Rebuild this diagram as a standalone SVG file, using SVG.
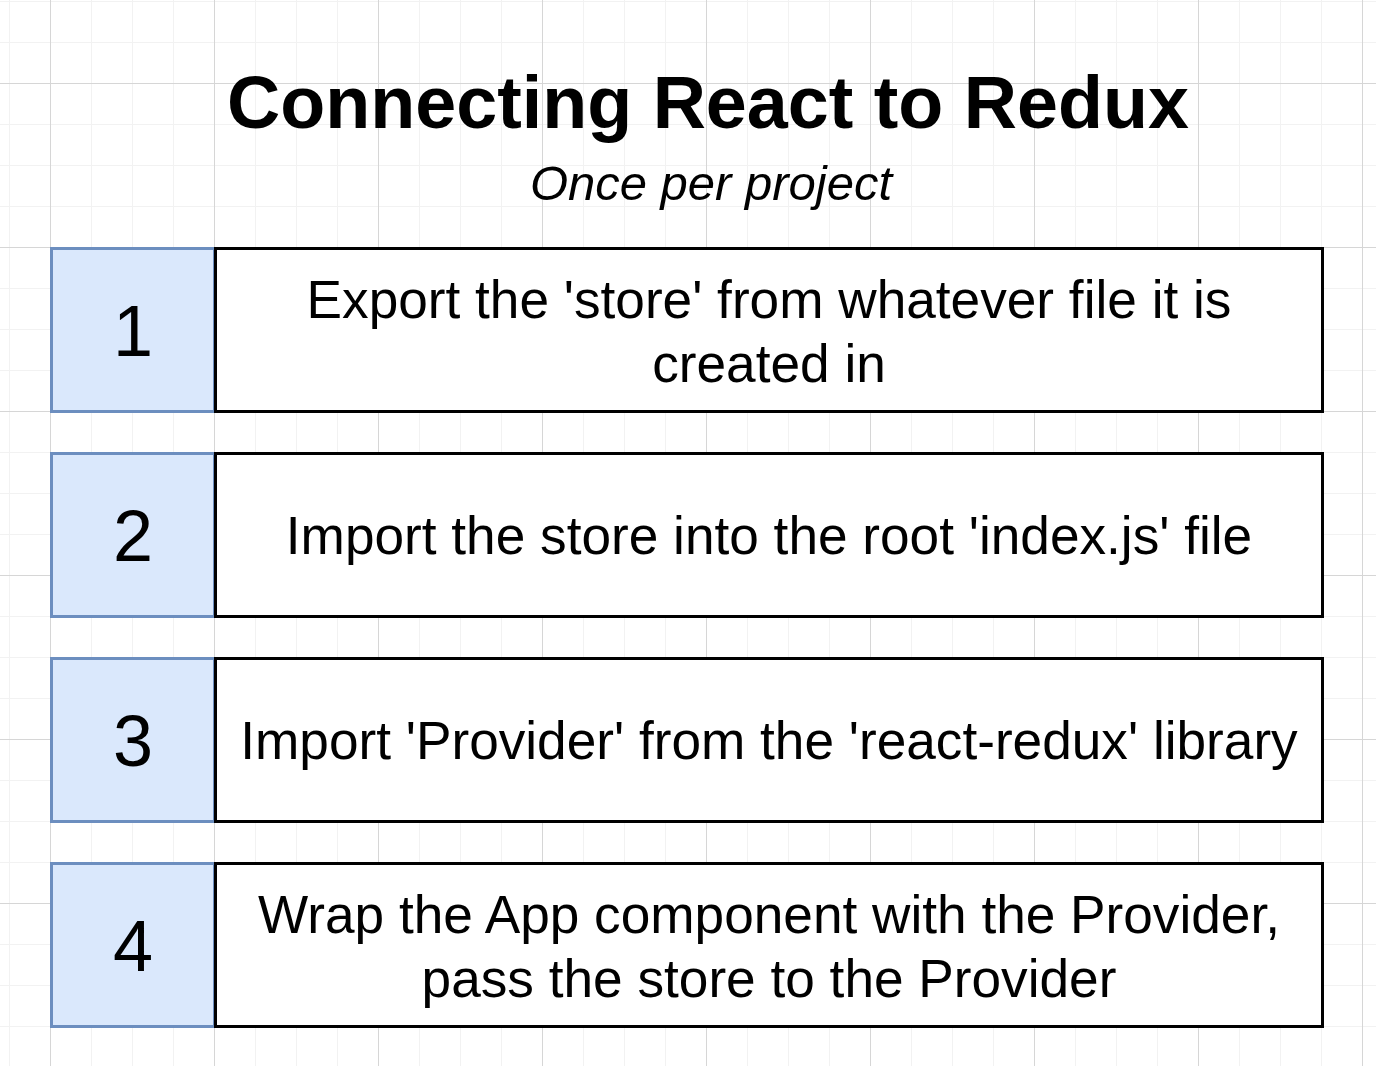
<svg xmlns="http://www.w3.org/2000/svg" width="1376" height="1066" viewBox="0 0 1376 1066">
  <defs>
    <!-- canvas grid: fine lines every 41px, heavier lines every 164px -->
    <pattern id="grid" patternUnits="userSpaceOnUse" x="50" y="83" width="164" height="164">
      <path d="M41.5 0V164M82.5 0V164M123.5 0V164M0 41.5H164M0 82.5H164M0 123.5H164" stroke="#f2f2f2" stroke-width="1" fill="none"/>
      <path d="M0.5 0V164M0 0.5H164" stroke="#d6d6d6" stroke-width="1" fill="none"/>
    </pattern>
    <style>
      .num { fill: #dae8fc; stroke: #6c8ebf; stroke-width: 3; }
      .box { fill: #ffffff; stroke: #000000; stroke-width: 3; }
      .numtxt { font-family: "Liberation Sans", Arial, Helvetica, sans-serif; font-size: 72px; fill: #000; text-anchor: middle; }
      .txt { font-family: "Liberation Sans", Arial, Helvetica, sans-serif; font-size: 53.2px; fill: #000; text-anchor: middle; }
      .title { font-family: "Liberation Sans", Arial, Helvetica, sans-serif; font-size: 73.7px; font-weight: bold; fill: #000; text-anchor: middle; }
      .sub { font-family: "Liberation Sans", Arial, Helvetica, sans-serif; font-size: 49px; font-style: italic; fill: #000; text-anchor: middle; }
    </style>
  </defs>

  <rect width="1376" height="1066" fill="#ffffff"/>
  <rect width="1376" height="1066" fill="url(#grid)"/>

  <g id="title">
    <text class="title" x="708" y="128">Connecting React to Redux</text>
    <text class="sub" x="711" y="200">Once per project</text>
  </g>

  <g id="step1">
    <rect class="num" x="51.5" y="248.5" width="163" height="163"/>
    <text class="numtxt" x="133" y="356">1</text>
    <rect class="box" x="215.5" y="248.5" width="1107" height="163"/>
    <text class="txt" x="769" y="318">Export the 'store' from whatever file it is</text>
    <text class="txt" x="769" y="382">created in</text>
  </g>

  <g id="step2">
    <rect class="num" x="51.5" y="453.5" width="163" height="163"/>
    <text class="numtxt" x="133" y="561">2</text>
    <rect class="box" x="215.5" y="453.5" width="1107" height="163"/>
    <text class="txt" x="769" y="554">Import the store into the root 'index.js' file</text>
  </g>

  <g id="step3">
    <rect class="num" x="51.5" y="658.5" width="163" height="163"/>
    <text class="numtxt" x="133" y="766">3</text>
    <rect class="box" x="215.5" y="658.5" width="1107" height="163"/>
    <text class="txt" x="769" y="759">Import 'Provider' from the 'react-redux' library</text>
  </g>

  <g id="step4">
    <rect class="num" x="51.5" y="863.5" width="163" height="163"/>
    <text class="numtxt" x="133" y="971">4</text>
    <rect class="box" x="215.5" y="863.5" width="1107" height="163"/>
    <text class="txt" x="769" y="933">Wrap the App component with the Provider,</text>
    <text class="txt" x="769" y="997">pass the store to the Provider</text>
  </g>

  <g id="connectors"/>
</svg>
